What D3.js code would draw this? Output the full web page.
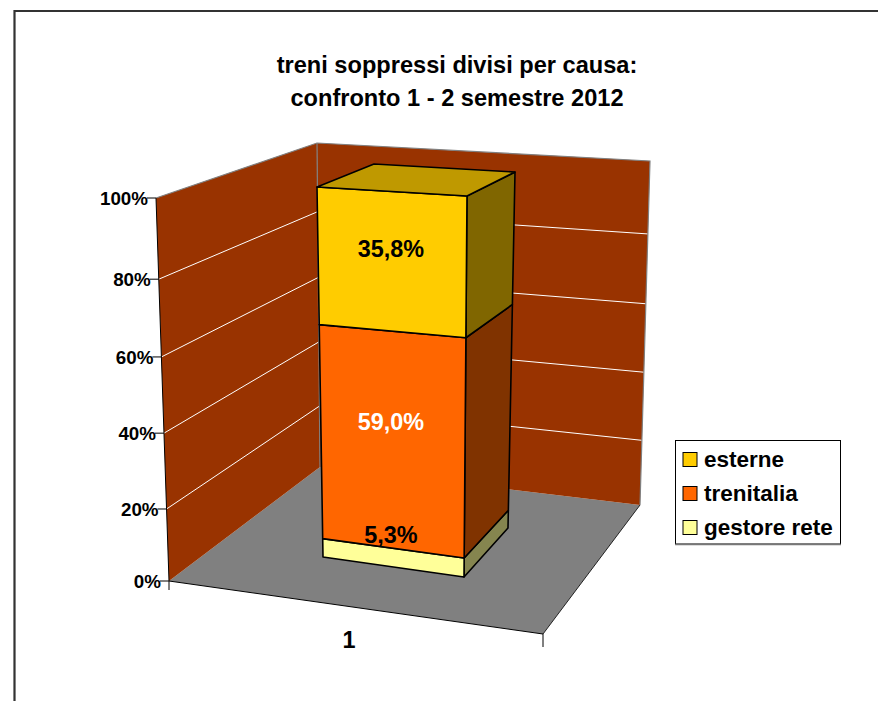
<!DOCTYPE html>
<html>
<head>
<meta charset="utf-8">
<script src="https://cdn.jsdelivr.net/npm/d3@7"></script>
<style>
  html, body { margin: 0; padding: 0; background: #fff; }
  svg { display: block; font-family: "Liberation Sans", Arial, sans-serif; font-weight: bold; }
</style>
</head>
<body>
<div class="canvas"></div>
<script>
// data
const categories = ['1'];
const seriesNames = ['gestore rete', 'trenitalia', 'esterne'];
const seriesValues = [5.3, 59.0, 35.8];
const seriesColors = ['#ffff99', '#ff6600', '#ffcc00'];
const sideColors = ['#85854f', '#803300', '#806600'];
const tickValues = [0, 20, 40, 60, 80, 100];
const titleLines = ['treni soppressi divisi per causa:', 'confronto 1 - 2 semestre 2012'];

const svg = d3.select('.canvas')
  .append('svg')
    .attr('width', 878)
    .attr('height', 701);

// frame, only left and top are in the picture
svg.append('path')
  .attr('d', d3.line()([[14.5, 701], [14.5, 11], [878, 11]]))
  .attr('fill', 'none').attr('stroke', '#333').attr('stroke-width', 2.2);

// title
svg.append('g').selectAll('text')
  .data(titleLines)
  .enter().append('text')
    .attr('x', 457)
    .attr('y', (d, i) => 73 + i * 33)
    .attr('text-anchor', 'middle')
    .attr('font-size', 23.6)
    .text(d => d);

// the chart box as seen on screen (fake 3d), every edge is bottom -> top
const wallLeft = { bottom: [169, 581], top: [156, 198] };
const wallBack = { bottom: [320, 467], top: [317, 143] };
const wallRight = { bottom: [640, 505], top: [650, 161] };
const floorFront = [543, 634];

const barFrontLeft = { bottom: [323, 557], top: [317, 187] };
const barFrontRight = { bottom: [464, 577], top: [467, 196] };
const barBackRight = { bottom: [508, 528], top: [515, 172] };
const barBackLeft = { bottom: [367, 512], top: [374, 164] };

// percent -> fraction of the height of an edge, squeezed by the perspective
const y = d3.scaleLinear()
  .domain(tickValues)
  .range([0, 0.188, 0.386, 0.585, 0.788, 1]);

const at = (edge, pct) => d3.interpolate(edge.bottom, edge.top)(y(pct));
const line = d3.line();
const poly = pts => line(pts) + 'Z';

// walls and floor
svg.append('path')
  .attr('d', poly([wallLeft.bottom, wallBack.bottom, wallRight.bottom, floorFront]))
  .attr('fill', '#808080');
svg.append('path')
  .attr('d', poly([wallLeft.bottom, wallLeft.top, wallBack.top, wallBack.bottom]))
  .attr('fill', '#993300');
svg.append('path')
  .attr('d', poly([wallBack.bottom, wallBack.top, wallRight.top, wallRight.bottom]))
  .attr('fill', '#993300');

// gridlines
const grid = svg.append('g').attr('fill', 'none').attr('stroke', '#fff').attr('stroke-width', 1);
tickValues.slice(1, -1).forEach(t => {
  grid.append('path').attr('d', line([at(wallLeft, t), at(wallBack, t), at(wallRight, t)]));
});

// wall outline
svg.append('path')
  .attr('d', line([wallLeft.top, wallBack.top, wallRight.top, wallRight.bottom]))
  .attr('fill', 'none').attr('stroke', '#808080').attr('stroke-width', 1.2);
svg.append('path')
  .attr('d', line([wallBack.top, wallBack.bottom]))
  .attr('fill', 'none').attr('stroke', '#808080').attr('stroke-width', 1.2);
svg.append('path')
  .attr('d', line([wallRight.bottom, floorFront]))
  .attr('fill', 'none').attr('stroke', '#222').attr('stroke-width', 1);

// value axis
const axis = svg.append('g').attr('stroke', '#000').attr('fill', 'none').attr('stroke-width', 1);
axis.append('path').attr('d', line([wallLeft.bottom, wallLeft.top]));
axis.selectAll('.tick')
  .data(tickValues)
  .enter().append('path')
    .attr('class', 'tick')
    .attr('d', d => {
      const p = at(wallLeft, d);
      return line([p, [p[0] - 9, p[1]]]);
    });

svg.append('g').selectAll('text')
  .data(tickValues)
  .enter().append('text')
    .attr('x', d => at(wallLeft, d)[0] - 8)
    .attr('y', d => at(wallLeft, d)[1] + 7)
    .attr('text-anchor', 'end')
    .attr('font-size', 18.8)
    .text(d => d + '%');

// category axis
axis.append('path').attr('d', line([wallLeft.bottom, floorFront]));
axis.append('path').attr('d', line([wallLeft.bottom, [wallLeft.bottom[0], wallLeft.bottom[1] + 9]]));
axis.append('path').attr('d', line([floorFront, [floorFront[0], floorFront[1] + 13]]));

const x = d3.scaleBand()
  .domain(categories)
  .range([wallLeft.bottom[0], floorFront[0]]);

svg.append('g').selectAll('text')
  .data(categories)
  .enter().append('text')
    .attr('x', d => x(d) + x.bandwidth() / 2 - 7)
    .attr('y', 648)
    .attr('text-anchor', 'middle')
    .attr('font-size', 23.4)
    .text(d => d);

// stacked bar
const row = {};
seriesNames.forEach((name, i) => { row[name] = seriesValues[i]; });
const stacked = d3.stack()
  .keys(seriesNames)
  .offset(d3.stackOffsetExpand)([row]);

const bar = svg.append('g').attr('stroke', '#000').attr('stroke-width', 1.6).attr('stroke-linejoin', 'round');
stacked.forEach((layer, i) => {
  const y0 = layer[0][0] * 100;
  const y1 = layer[0][1] * 100;
  bar.append('path')
    .attr('d', poly([at(barFrontRight, y0), at(barBackRight, y0), at(barBackRight, y1), at(barFrontRight, y1)]))
    .attr('fill', sideColors[i]);
  bar.append('path')
    .attr('d', poly([at(barFrontLeft, y0), at(barFrontRight, y0), at(barFrontRight, y1), at(barFrontLeft, y1)]))
    .attr('fill', seriesColors[i]);
});
// top of the stack
bar.append('path')
  .attr('d', poly([barFrontLeft.top, barFrontRight.top, barBackRight.top, barBackLeft.top]))
  .attr('fill', '#bf9900');

// data labels sit at the middle of the 3d segment
const fmt = d3.formatLocale({ decimal: ',', thousands: '.', grouping: [3], currency: ['', '€'] }).format('.1f');
const edges = [barFrontLeft, barFrontRight, barBackRight, barBackLeft];
const labelColors = ['#000', '#fff', '#000'];
svg.append('g').selectAll('text')
  .data(stacked)
  .enter().append('text')
    .attr('x', 391)
    .attr('y', d => {
      const mid = (d[0][0] + d[0][1]) * 50;
      return d3.mean(edges, e => at(e, mid)[1]) + 8.5;
    })
    .attr('text-anchor', 'middle')
    .attr('font-size', 23.4)
    .attr('fill', (d, i) => labelColors[i])
    .text((d, i) => fmt(seriesValues[i]) + '%');

// legend
const legend = svg.append('g');
legend.append('rect')
  .attr('x', 675.5).attr('y', 440.5)
  .attr('width', 165).attr('height', 103.5)
  .attr('fill', '#fff').attr('stroke', '#000').attr('stroke-width', 1);
legend.append('path')
  .attr('d', line([[675, 544.5], [841, 544.5]]))
  .attr('stroke', '#777').attr('stroke-width', 1.4);

const legendOrder = [2, 1, 0];
const rows = legend.selectAll('g')
  .data(legendOrder)
  .enter().append('g')
    .attr('transform', (d, i) => `translate(683, ${452.5 + i * 34})`);
rows.append('rect')
  .attr('width', 14).attr('height', 14)
  .attr('fill', d => seriesColors[d])
  .attr('stroke', '#000').attr('stroke-width', 1);
rows.append('text')
  .attr('x', 21).attr('y', 14)
  .attr('font-size', 22.5)
  .text(d => seriesNames[d]);
</script>
</body>
</html>
